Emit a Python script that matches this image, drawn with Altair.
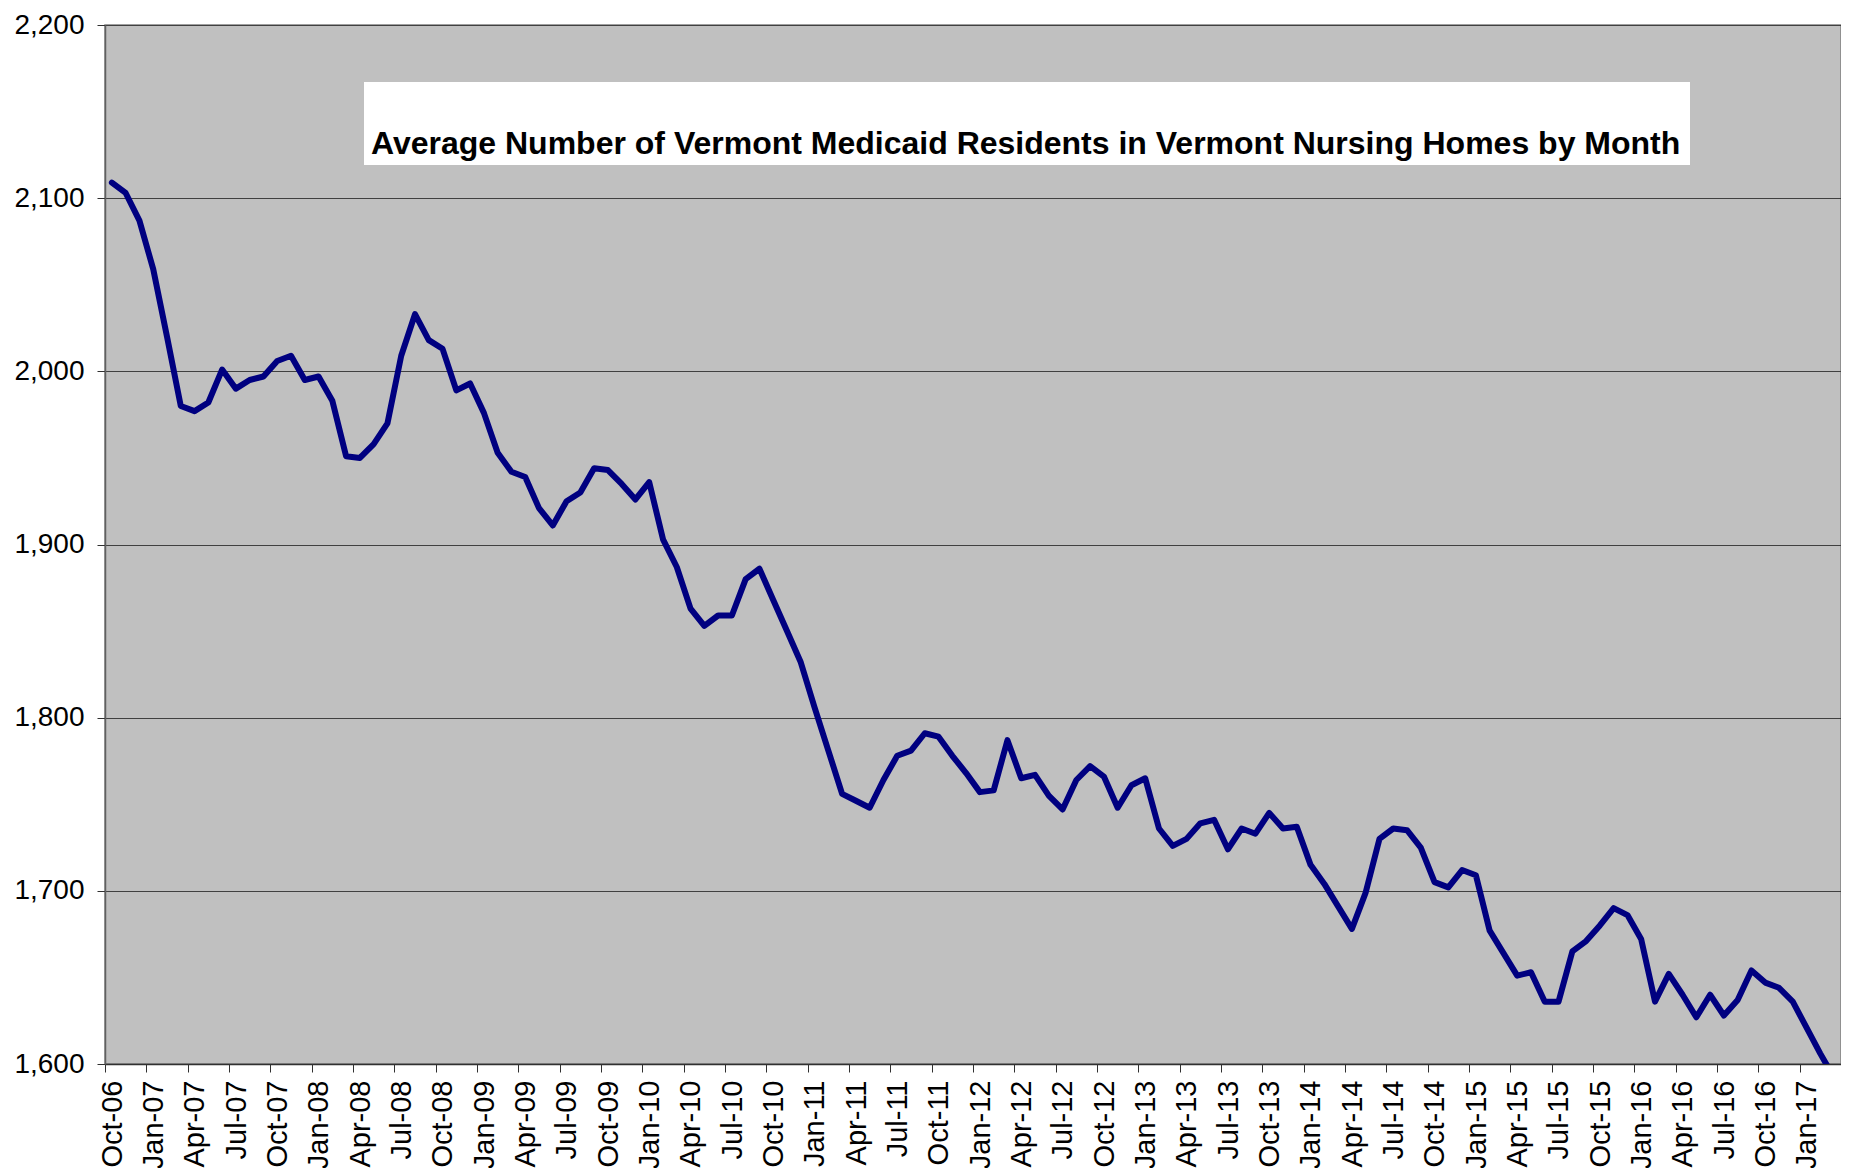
import json
import altair as alt
import pandas as pd

# Monthly values, Oct-06 .. Mar-17 (126 months)
values = [
    2109, 2103, 2087, 2059, 2020, 1980, 1977, 1982, 2001, 1990,
    1995, 1997, 2006, 2009, 1995, 1997, 1983, 1951, 1950, 1958,
    1970, 2009, 2033, 2018, 2013, 1989, 1993, 1976, 1953, 1942,
    1939, 1921, 1911, 1925, 1930, 1944, 1943, 1935, 1926, 1936,
    1903, 1887, 1863, 1853, 1859, 1859, 1880, 1886, 1868, 1850,
    1832, 1806, 1781, 1756, 1752, 1748, 1764, 1778, 1781, 1791,
    1789, 1778, 1768, 1757, 1758, 1787, 1765, 1767, 1755, 1747,
    1764, 1772, 1766, 1748, 1761, 1765, 1736, 1726, 1730, 1739,
    1741, 1724, 1736, 1733, 1745, 1736, 1737, 1715, 1704, 1691,
    1678, 1699, 1730, 1736, 1735, 1725, 1705, 1702, 1712, 1709,
    1677, 1664, 1651, 1653, 1636, 1636, 1665, 1671, 1680, 1690,
    1686, 1672, 1636, 1652, 1640, 1627, 1640, 1628, 1637, 1654,
    1647, 1644, 1636, 1621, 1606, 1592,
]

tick_labels = [
    "Oct-06", "Jan-07", "Apr-07", "Jul-07", "Oct-07", "Jan-08", "Apr-08",
    "Jul-08", "Oct-08", "Jan-09", "Apr-09", "Jul-09", "Oct-09", "Jan-10",
    "Apr-10", "Jul-10", "Oct-10", "Jan-11", "Apr-11", "Jul-11", "Oct-11",
    "Jan-12", "Apr-12", "Jul-12", "Oct-12", "Jan-13", "Apr-13", "Jul-13",
    "Oct-13", "Jan-14", "Apr-14", "Jul-14", "Oct-14", "Jan-15", "Apr-15",
    "Jul-15", "Oct-15", "Jan-16", "Apr-16", "Jul-16", "Oct-16", "Jan-17",
]

y_ticks = [1600, 1700, 1800, 1900, 2000, 2100, 2200]
title_text = "Average Number of Vermont Medicaid Residents in Vermont Nursing Homes by Month"

n_cat = 126
df = pd.DataFrame({"idx": [i + 0.5 for i in range(len(values))], "value": values})

FONT = "Liberation Sans"
W, H = 1736, 1039

label_expr = (
    "datum.value < " + str(n_cat) + " ? " + json.dumps(tick_labels)
    + "[round(datum.value / 3)] : ''"
)

line = alt.Chart(df).mark_line(
    color="#000080", strokeWidth=6, strokeJoin="round", strokeCap="round", clip=True
).encode(
    x=alt.X(
        "idx:Q",
        scale=alt.Scale(domain=[0, n_cat], nice=False, zero=False),
        axis=alt.Axis(
            values=list(range(0, n_cat + 1, 3)),
            labelExpr=label_expr,
            labelAngle=270,
            labelOffset=7,
            labelFontSize=29,
            labelFont=FONT,
            labelColor="black",
            labelOverlap=False,
            labelFlush=False,
            labelBound=False,
            labelPadding=8,
            tickSize=8,
            tickColor="#303030",
            domainColor="#303030",
            domainWidth=1.5,
            grid=False,
            title=None,
        ),
    ),
    y=alt.Y(
        "value:Q",
        scale=alt.Scale(domain=[1600, 2200], nice=False, zero=False),
        axis=alt.Axis(
            values=y_ticks,
            format=",d",
            labelFontSize=28,
            labelFont=FONT,
            labelColor="black",
            labelPadding=13,
            tickSize=8,
            tickColor="#303030",
            domainColor="#606060",
            domainWidth=1.5,
            grid=True,
            gridColor="#404040",
            gridWidth=1.2,
            title=None,
        ),
    ),
)

one = pd.DataFrame({"k": [0]})

box = alt.Chart(one).mark_rect(color="white").encode(
    x=alt.value(259), x2=alt.value(1585), y=alt.value(57), y2=alt.value(140)
)

title = alt.Chart(one).mark_text(
    text=title_text,
    font=FONT,
    fontSize=32,
    fontWeight="bold",
    color="black",
    align="left",
    baseline="alphabetic",
).encode(x=alt.value(266), y=alt.value(129))

chart = alt.layer(line, box, title).properties(
    width=W,
    height=H,
    autosize=alt.AutoSizeParams(type="none"),
    padding={"left": 97, "top": 17, "right": 0, "bottom": 104},
    background="white",
).configure_view(
    fill="#C0C0C0", stroke="#808080", strokeWidth=1.5
)

chart.save("out.html", embed_options={"renderer": "svg", "actions": False})
